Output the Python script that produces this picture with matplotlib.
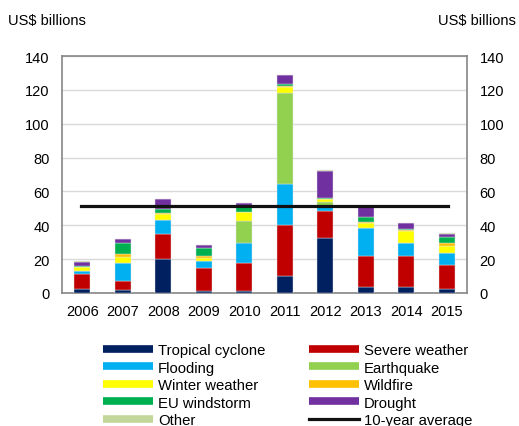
import numpy as np
import matplotlib
matplotlib.use("Agg")
import matplotlib.pyplot as plt
from matplotlib.lines import Line2D

plt.rcParams['font.family'] = ['Liberation Sans', 'DejaVu Sans']

years = ['2006', '2007', '2008', '2009', '2010', '2011', '2012', '2013', '2014', '2015']

tropical_cyclone = [2.6, 2.0, 19.9, 1.2, 1.4, 9.9, 32.5, 3.7, 3.4, 2.6]
severe_weather = [8.9, 5.3, 15.2, 13.6, 16.4, 30.2, 15.8, 18.3, 18.7, 13.8]
flooding = [1.6, 10.3, 7.9, 4.3, 11.8, 24.1, 2.5, 16.2, 7.3, 7.1]
earthquake = [0, 0, 0, 0, 13.2, 54.0, 3.0, 0, 0, 0]
winter_weather = [2.2, 3.5, 3.9, 1.4, 4.9, 3.3, 1.5, 3.2, 7.5, 4.5]
wildfire = [0.3, 2.0, 0.3, 1.6, 0.3, 1.0, 0.5, 0.3, 0.3, 1.6]
eu_windstorm = [0.3, 6.7, 2.2, 4.3, 3.0, 1.0, 0.5, 3.2, 0.6, 3.4]
drought = [2.5, 2.0, 5.9, 1.8, 2.0, 5.0, 16.0, 5.7, 3.4, 2.0]
other = [0.3, 0.2, 0.4, 0.2, 0.3, 0.3, 0.2, 0.2, 0.2, 0.2]

series = [
    ('Tropical cyclone', tropical_cyclone, '#002060'),
    ('Severe weather', severe_weather, '#C00000'),
    ('Flooding', flooding, '#00B0F0'),
    ('Earthquake', earthquake, '#92D050'),
    ('Winter weather', winter_weather, '#FFFF00'),
    ('Wildfire', wildfire, '#FFC000'),
    ('EU windstorm', eu_windstorm, '#00B050'),
    ('Drought', drought, '#7030A0'),
    ('Other', other, '#C4D79B'),
]

fig = plt.figure(figsize=(5.19, 4.27), dpi=100)
ax = fig.add_axes([0.1195, 0.3115, 0.7805, 0.555])

x = np.arange(len(years))
bottom = np.zeros(len(years))
for name, vals, col in series:
    ax.bar(x, vals, 0.4, bottom=bottom, color=col, edgecolor='#e6e6e6',
           linewidth=0.3, zorder=3)
    bottom += np.array(vals)

avg = bottom.mean()
ax.plot([-0.03, 9.03], [avg, avg], color='#111111', lw=2.3, zorder=4)

ax.set_xlim(-0.5, 9.5)
ax.set_ylim(0, 140)
ax.set_yticks(range(0, 141, 20))
ax.set_xticks(x)
ax.set_xticklabels(years)
ax.tick_params(axis='x', length=0, pad=8, labelsize=10.5)
ax.tick_params(axis='y', length=0, pad=9, labelsize=10.5, right=True, labelright=True)
ax.grid(axis='y', color='#d9d9d9', lw=1, zorder=0)
for s in ax.spines.values():
    s.set_color('#868686')
    s.set_linewidth(1.2)

fig.text(8 / 519, 1 - 21 / 427, 'US$ billions', fontsize=10.5, va='center', ha='left')
fig.text(516 / 519, 1 - 21 / 427, 'US$ billions', fontsize=10.5, va='center', ha='right')

# legend rows go left-right, so reorder for matplotlib's column filling
h = {name: Line2D([], [], color=col, lw=5.5, solid_capstyle='butt') for name, _, col in series}
h['10-year average'] = Line2D([], [], color='#111111', lw=2.3)
order = ['Tropical cyclone', 'Flooding', 'Winter weather', 'EU windstorm', 'Other',
         'Severe weather', 'Earthquake', 'Wildfire', 'Drought', '10-year average']
fig.legend([h[n] for n in order], order, ncol=2, loc='upper left',
           bbox_to_anchor=(103 / 519, 1 - 344 / 427), frameon=False, fontsize=10.7,
           handlelength=3.35, handletextpad=0.35, labelspacing=0.24, columnspacing=2.95,
           borderpad=0, borderaxespad=0)

fig.savefig('out.png', dpi=100)
